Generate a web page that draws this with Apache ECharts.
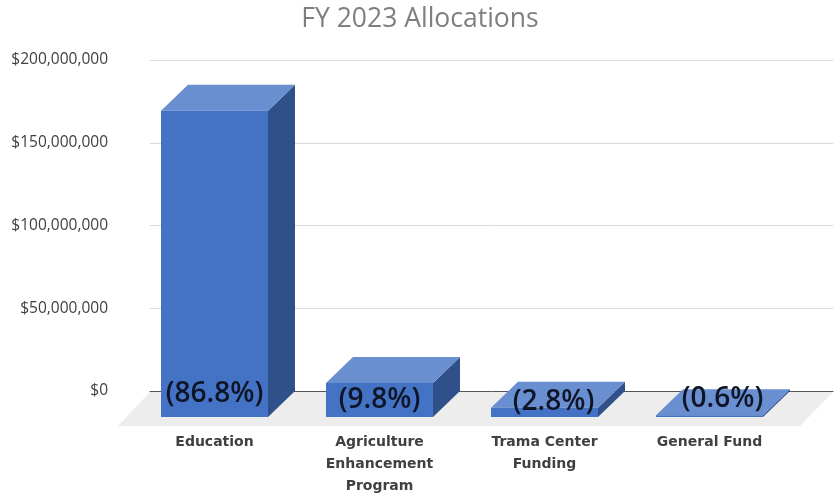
<!DOCTYPE html>
<html><head><meta charset="utf-8">
<style>html,body{margin:0;padding:0;background:#fff}#c{width:834px;height:498px}</style>
<script src="https://cdn.jsdelivr.net/npm/echarts@6/dist/echarts.min.js"></script>
</head><body><div id="c"></div>
<script>
const categories = ['Education', 'Agriculture\nEnhancement\nProgram', 'Trama Center\nFunding', 'General Fund'];
const values = [185000000, 20500000, 5600000, 1000000];
const shares = ['(86.8%)', '(9.8%)', '(2.8%)', '(0.6%)'];
const yTicks = [0, 50000000, 100000000, 150000000, 200000000];

// Drawing constants for the fake-3D look (not data)
const DX = 27, DY = 26, BAR_W = 107;
const shareNudge = [[0, -23], [0, -17], [9, -15], [13, -18]];
const FONT = '"Open Sans"';

const fmt = v => '$' + Number(v).toLocaleString('en-US');

function renderBar(params, api) {
  const i = api.value(0);
  const top = api.coord([i, api.value(1)]);
  const base = api.coord([i, 0]);
  const x0 = top[0] - BAR_W / 2, x1 = top[0] + BAR_W / 2;
  const yt = top[1] + DY, yb = base[1] + DY;
  const poly = (points, fill) => ({ type: 'polygon', shape: { points }, style: { fill } });
  return {
    type: 'group',
    children: [
      poly([[x1, yt], [x1 + DX, yt - DY], [x1 + DX, yb - DY], [x1, yb]], '#2f5088'),
      poly([[x0, yt], [x0 + DX, yt - DY], [x1 + DX, yt - DY], [x1, yt]], '#6a8fd1'),
      { type: 'rect', shape: { x: x0, y: yt, width: BAR_W, height: yb - yt }, style: { fill: '#4472c4' } },
      { type: 'text', x: top[0] + shareNudge[i][0], y: yb + shareNudge[i][1],
        style: { text: shares[i], fill: '#0d1526', font: '600 28px ' + FONT, align: 'center', verticalAlign: 'middle' } }
    ]
  };
}

function renderFloor(params, api) {
  const b = params.coordSys;
  const yt = b.y + b.height + 1, yb = b.y + b.height + 35;
  return { type: 'polygon', shape: { points: [[b.x, yt], [b.x + b.width, yt], [b.x + b.width - 33, yb], [b.x - 32, yb]] },
    style: { fill: '#ededed' } };
}

const chart = echarts.init(document.getElementById('c'), null, { renderer: 'canvas' });
chart.setOption({
  animation: false,
  backgroundColor: '#fff',
  title: { text: 'FY 2023 Allocations', left: 415, top: 1, textAlign: 'center',
    textStyle: { color: '#7f7f7f', fontFamily: FONT, fontSize: 26.5, fontWeight: 400 } },
  grid: [
    { left: 150, width: 683, top: 60, height: 331 },
    { left: 132, width: 660, top: 60, height: 331 }
  ],
  xAxis: [
    { gridIndex: 0, type: 'category', data: [''], axisLine: { lineStyle: { color: '#555', width: 1 } }, axisTick: { show: false }, axisLabel: { show: false } },
    { gridIndex: 1, type: 'category', data: categories, axisLine: { show: false }, axisTick: { show: false },
      axisLabel: { margin: 40, interval: 0, color: '#404040', fontFamily: '"DejaVu Sans"', fontSize: 14, fontWeight: 700, lineHeight: 22, hideOverlap: false } }
  ],
  yAxis: [
    { gridIndex: 0, type: 'value', min: yTicks[0], max: yTicks[yTicks.length - 1], interval: yTicks[1] - yTicks[0],
      axisLine: { show: false }, axisTick: { show: false },
      splitLine: { lineStyle: { color: '#d9d9d9', width: 1 } },
      axisLabel: { margin: 42, color: '#404040', fontFamily: FONT, fontSize: 15.5, padding: [3, 0, 0, 0], formatter: fmt } },
    { gridIndex: 1, type: 'value', min: yTicks[0], max: yTicks[yTicks.length - 1], show: false }
  ],
  series: [
    { type: 'custom', xAxisIndex: 0, yAxisIndex: 0, renderItem: renderFloor, data: [[0, 0]], silent: true, z: 1 },
    { type: 'custom', xAxisIndex: 1, yAxisIndex: 1, renderItem: renderBar, z: 5, clip: false,
      encode: { x: 0, y: 1 }, data: values.map((v, i) => [i, v]) }
  ]
});
</script></body></html>
